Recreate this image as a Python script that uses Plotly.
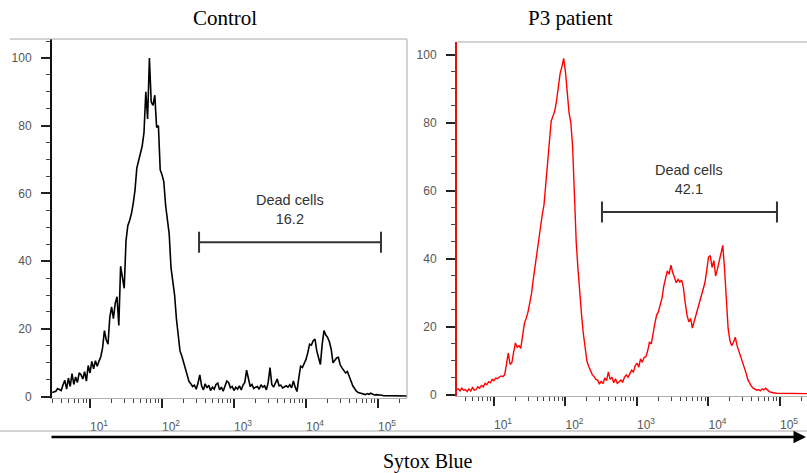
import math
import plotly.graph_objects as go

# ---------------- data ----------------
# Sytox Blue fluorescence intensity (histogram bin centres, shared by both panels)
intensity = [
    2.985, 3.162, 3.350, 3.548, 3.758, 3.981, 4.217, 4.467, 4.732, 5.012,
    5.309, 5.623, 5.957, 6.310, 6.683, 7.079, 7.499, 7.943, 8.414, 8.913, 9.441,
    10.00, 10.59, 11.22, 11.89, 12.59, 13.34, 14.13, 14.96, 15.85, 16.79,
    17.78, 18.84, 19.95, 21.13, 22.39, 23.71, 25.12, 26.61, 28.18, 29.85,
    31.62, 33.50, 35.48, 37.58, 39.81, 42.17, 44.67, 47.32, 50.12, 53.09,
    56.23, 59.57, 63.10, 66.83, 70.79, 74.99, 79.43, 84.14, 89.13, 94.41,
    100.0, 105.9, 112.2, 118.9, 125.9, 133.4, 141.3, 149.6, 158.5, 167.9,
    177.8, 188.4, 199.5, 211.3, 223.9, 237.1, 251.2, 266.1, 281.8, 298.5,
    316.2, 335.0, 354.8, 375.8, 398.1, 421.7, 446.7, 473.2, 501.2, 530.9,
    562.3, 595.7, 631.0, 668.3, 707.9, 749.9, 794.3, 841.4, 891.3, 944.1,
    1000, 1059, 1122, 1189, 1259, 1334, 1413, 1496, 1585, 1679,
    1778, 1884, 1995, 2113, 2239, 2371, 2512, 2661, 2818, 2985,
    3162, 3350, 3548, 3758, 3981, 4217, 4467, 4732, 5012, 5309,
    5623, 5957, 6310, 6683, 7079, 7499, 7943, 8414, 8913, 9441,
    10000, 10590, 11220, 11890, 12590, 13340, 14130, 14960, 15850, 16790,
    17780, 18840, 19950, 21130, 22390, 23710, 25120, 26610, 28180, 29850,
    31620, 33500, 35480, 37580, 39810, 42170, 44670, 47320, 50120, 53090,
    56230, 59570, 63100, 66830, 70790, 74990, 79430, 84140, 89130, 94410,
    100000, 105900, 112200, 118900, 125900, 133400, 141300, 149600, 158500,
    167900, 177800, 188400, 199500, 211300, 223900, 237100, 251200,
]

# Control: % of max
control_counts = [
    1.2, 1.4, 1.6, 2.4, 2.2, 1.8, 3.5, 4.8, 2.2, 5.5,
    3.0, 6.8, 3.6, 5.8, 4.2, 7.0, 6.5, 5.2, 7.4, 4.6, 9.2,
    7.0, 10.4, 8.2, 10.6, 9.0, 10.5, 11.8, 14.5, 19.5, 16.8,
    15.5, 23.5, 26.5, 23.0, 27.5, 29.5, 21.0, 38.5, 34.5, 32.0,
    46.0, 50.5, 52.0, 54.0, 57.0, 61.0, 67.5, 70.0, 71.5, 74.0,
    78.0, 90.0, 82.0, 100.0, 87.0, 86.0, 89.0, 79.5, 80.0, 67.0,
    65.5, 63.5, 56.5, 52.5, 48.0, 38.0, 33.5, 30.0, 23.0, 17.0,
    13.5, 12.0, 10.2, 8.0, 6.0, 4.5, 3.8, 3.0, 3.4, 2.2,
    4.0, 6.4, 3.2, 2.0, 3.8, 2.6, 3.4, 1.8, 2.8, 2.2,
    3.6, 4.0, 2.0, 2.8, 1.6, 3.2, 4.6, 4.2, 2.6, 3.0,
    1.8, 2.8, 2.2, 3.2, 2.0, 3.4, 4.2, 7.8, 5.0, 3.0,
    3.6, 2.4, 2.8, 3.0, 2.2, 3.5, 2.8, 3.2, 2.0, 4.2,
    8.6, 3.6, 2.8, 4.0, 5.2, 3.2, 3.4, 2.6, 3.0, 3.2,
    2.8, 3.5, 2.6, 4.6, 2.8, 1.5, 5.5, 9.0, 8.6, 9.6,
    11.0, 13.0, 15.5, 15.2, 16.5, 17.0, 13.5, 11.5, 9.5, 15.5,
    19.5, 18.2, 17.5, 16.2, 14.0, 10.0, 10.8, 11.4, 11.6, 9.4,
    8.5, 7.8, 7.0, 7.4, 6.2, 4.6, 3.2, 2.2, 1.6, 1.2,
    1.0, 0.8, 0.8, 0.6, 0.9, 0.7, 1.0, 0.8, 0.5, 0.6,
    0.6, 0.4, 0.4, 0.3, 0.3, 0.4, 0.3, 0.3, 0.2,
    0.3, 0.2, 0.3, 0.2, 0.2, 0.2, 0.2, 0.2,
]

# P3 patient: % of max
patient_counts = [
    1.5, 1.8, 1.2, 2.0, 1.4, 1.6, 1.0, 1.8, 1.2, 2.2,
    1.4, 1.6, 2.4, 2.0, 2.8, 2.4, 3.4, 3.0, 3.9, 3.6, 4.6,
    4.2, 5.0, 4.8, 5.3, 5.6, 5.4, 6.0, 9.0, 12.3, 9.0,
    9.5, 12.5, 15.3, 14.0, 14.5, 13.7, 17.5, 21.0, 22.5, 24.3,
    27.0, 29.8, 34.0, 38.0, 41.5, 46.5, 50.5, 53.0, 56.0, 62.5,
    69.0, 75.0, 80.5, 82.0, 83.5, 86.5, 91.0, 94.5, 96.5, 99.0,
    95.0, 88.0, 83.0, 80.0, 73.0, 59.0, 45.0, 37.0, 29.5, 23.5,
    18.0, 14.0, 10.0, 8.4, 7.0, 6.0, 5.4, 4.6, 4.4, 3.2,
    4.0, 3.4, 5.0, 4.2, 6.8, 4.6, 5.2, 3.6, 4.8, 3.4,
    3.8, 4.4, 3.8, 5.2, 5.9, 5.2, 6.2, 7.3, 6.8, 8.6,
    9.4, 8.2, 10.6, 9.6, 11.0, 11.3, 13.0, 15.6, 15.0, 18.5,
    21.0, 23.5, 24.5, 26.5, 28.5, 32.0, 34.5, 36.5, 35.5, 38.2,
    36.0, 34.5, 33.0, 34.0, 33.2, 33.8, 31.5, 27.0, 23.5, 21.5,
    22.5, 19.7, 21.5, 24.0, 25.5, 27.5, 29.0, 31.0, 33.0, 36.5,
    40.5, 41.0, 37.5, 39.5, 35.0, 37.0, 39.7, 42.0, 44.0, 37.0,
    27.0, 19.5, 16.0, 14.5, 15.5, 17.0, 14.5, 13.0, 11.2, 10.0,
    8.3, 6.5, 4.5, 3.5, 2.6, 2.0, 1.6, 1.4, 1.6, 1.2,
    1.8, 1.5, 2.0, 1.4, 1.0, 0.8, 0.6, 0.6, 0.5, 0.5,
    0.5, 0.5, 0.4, 0.5, 0.5, 0.4, 0.5, 0.4, 0.5,
    0.5, 0.4, 0.5, 0.4, 0.5, 0.5, 0.4, 0.4,
]

panel_titles = ["Control", "P3 patient"]
x_axis_title = "Sytox Blue"
x_tick_vals = [10, 100, 1000, 10000, 100000]
x_tick_text = ["10<sup>1</sup>", "10<sup>2</sup>", "10<sup>3</sup>",
               "10<sup>4</sup>", "10<sup>5</sup>"]
y_tick_vals = [0, 20, 40, 60, 80, 100]

gate_label = "Dead cells"
control_gate = [327, 110000]
control_gate_level = 45.6
control_dead_pct = "16.2"
patient_gate = [324, 90800]
patient_gate_level = 53.8
patient_dead_pct = "42.1"

# ---------------- figure ----------------
W, H = 807, 473
SANS = "Liberation Sans, Arial, sans-serif"
SERIF = "Liberation Serif, Times New Roman, serif"
TICK_GREY = "#555555"

def px_x(p):
    return p / W

def px_y(p):
    return (H - p) / H

minor_x = [k * 10 ** n for n in range(0, 6) for k in range(2, 10)]

fig = go.Figure()

fig.add_trace(go.Scatter(x=intensity, y=control_counts, mode="lines",
                         line=dict(color="#000000", width=1.6),
                         xaxis="x", yaxis="y", showlegend=False))
fig.add_trace(go.Scatter(x=intensity, y=patient_counts, mode="lines",
                         line=dict(color="#ff0000", width=1.4),
                         xaxis="x2", yaxis="y2", showlegend=False))

# gates
for gate, level, xa, ya in [(control_gate, control_gate_level, "x", "y"),
                            (patient_gate, patient_gate_level, "x2", "y2")]:
    fig.add_trace(go.Scatter(x=gate, y=[level, level], mode="lines+markers",
                             line=dict(color="#333333", width=2),
                             marker=dict(symbol="line-ns", size=15,
                                         line=dict(color="#333333", width=2)),
                             xaxis=xa, yaxis=ya, showlegend=False,
                             hoverinfo="skip"))

def xaxis_cfg(domain, rng, anchor):
    return dict(domain=domain, type="log", range=rng, anchor=anchor,
                automargin=False,
                showline=True, linecolor="#b0b0b0", linewidth=1,
                showgrid=False, zeroline=False,
                tickmode="array", tickvals=x_tick_vals, ticktext=x_tick_text,
                ticks="outside", ticklen=9, tickwidth=2, tickcolor="#222222",
                ticklabelstandoff=9, ticklabelshift=9,
                tickfont=dict(family=SANS, size=12, color=TICK_GREY),
                minor=dict(tickmode="array", tickvals=minor_x, ticks="outside",
                           ticklen=4, tickwidth=1, tickcolor="#444444"))

def yaxis_cfg(domain, rng, anchor, linecolor):
    return dict(domain=domain, range=rng, anchor=anchor,
                automargin=False,
                showline=True, linecolor=linecolor, linewidth=2,
                showgrid=False, zeroline=False,
                tickmode="array", tickvals=y_tick_vals,
                ticks="outside", ticklen=9, tickwidth=2, tickcolor="#222222",
                ticklabelstandoff=7,
                tickfont=dict(family=SANS, size=12, color=TICK_GREY),
                minor=dict(dtick=5, ticks="outside", ticklen=4, tickwidth=1,
                           tickcolor="#444444"))

fig.update_layout(
    width=W, height=H, autosize=False,
    margin=dict(l=0, r=0, t=0, b=0, pad=0),
    paper_bgcolor="white", plot_bgcolor="white",
    xaxis=xaxis_cfg([px_x(52), px_x(407)], [0.472, 5.403], "y"),
    yaxis=yaxis_cfg([px_y(398), px_y(39)], [-0.4, 105.6], "x", "#111111"),
    xaxis2=xaxis_cfg([px_x(457), 1.0], [0.483, 5.378], "y2"),
    yaxis2=yaxis_cfg([px_y(395.5), px_y(42)], [-0.15, 103.8], "x2", "#e01010"),
)

# panel frames (grey)
frame = dict(color="#a8a8a8", width=1)
fig.add_shape(type="line", xref="paper", yref="paper",
              x0=px_x(10), x1=px_x(407), y0=px_y(39), y1=px_y(39), line=frame)
fig.add_shape(type="line", xref="paper", yref="paper",
              x0=px_x(407), x1=px_x(407), y0=px_y(39), y1=px_y(398), line=frame)
fig.add_shape(type="line", xref="paper", yref="paper",
              x0=px_x(457), x1=1.0, y0=px_y(42), y1=px_y(42), line=frame)
# separator line above the axis arrow
fig.add_shape(type="line", xref="paper", yref="paper",
              x0=0, x1=1.0, y0=px_y(431), y1=px_y(431), line=frame)

# axis arrow
fig.add_annotation(xref="paper", yref="paper", x=1.0, y=px_y(437),
                   ax=-(807 - 50), ay=0, axref="pixel", ayref="pixel",
                   showarrow=True, arrowhead=2, arrowsize=1, arrowwidth=2.5,
                   arrowcolor="#000000", text="")

# titles
for t, cx in zip(panel_titles, [225, 570]):
    fig.add_annotation(xref="paper", yref="paper", x=px_x(cx), y=px_y(18),
                       text=t, showarrow=False, xanchor="center", yanchor="middle",
                       font=dict(family=SERIF, size=21, color="#000000"))
fig.add_annotation(xref="paper", yref="paper", x=px_x(428), y=px_y(461),
                   text=x_axis_title, showarrow=False, xanchor="center",
                   yanchor="middle",
                   font=dict(family=SERIF, size=20, color="#000000"))

# gate labels
for gate, level, pct, xa, ya in [
        (control_gate, control_gate_level, control_dead_pct, "x", "y"),
        (patient_gate, patient_gate_level, patient_dead_pct, "x2", "y2")]:
    fig.add_annotation(xref=xa, yref=ya,
                       x=math.log10(math.sqrt(gate[0] * gate[1])), y=level,
                       text=f"{gate_label}<br>{pct}", showarrow=False,
                       xanchor="center", yanchor="bottom", yshift=13,
                       font=dict(family=SANS, size=14.5, color="#333333"))

fig.write_html("out.html",
               config={"displayModeBar": False, "responsive": False},
               post_script="document.body.style.margin='0px';"
                           "document.body.style.overflow='hidden';")
